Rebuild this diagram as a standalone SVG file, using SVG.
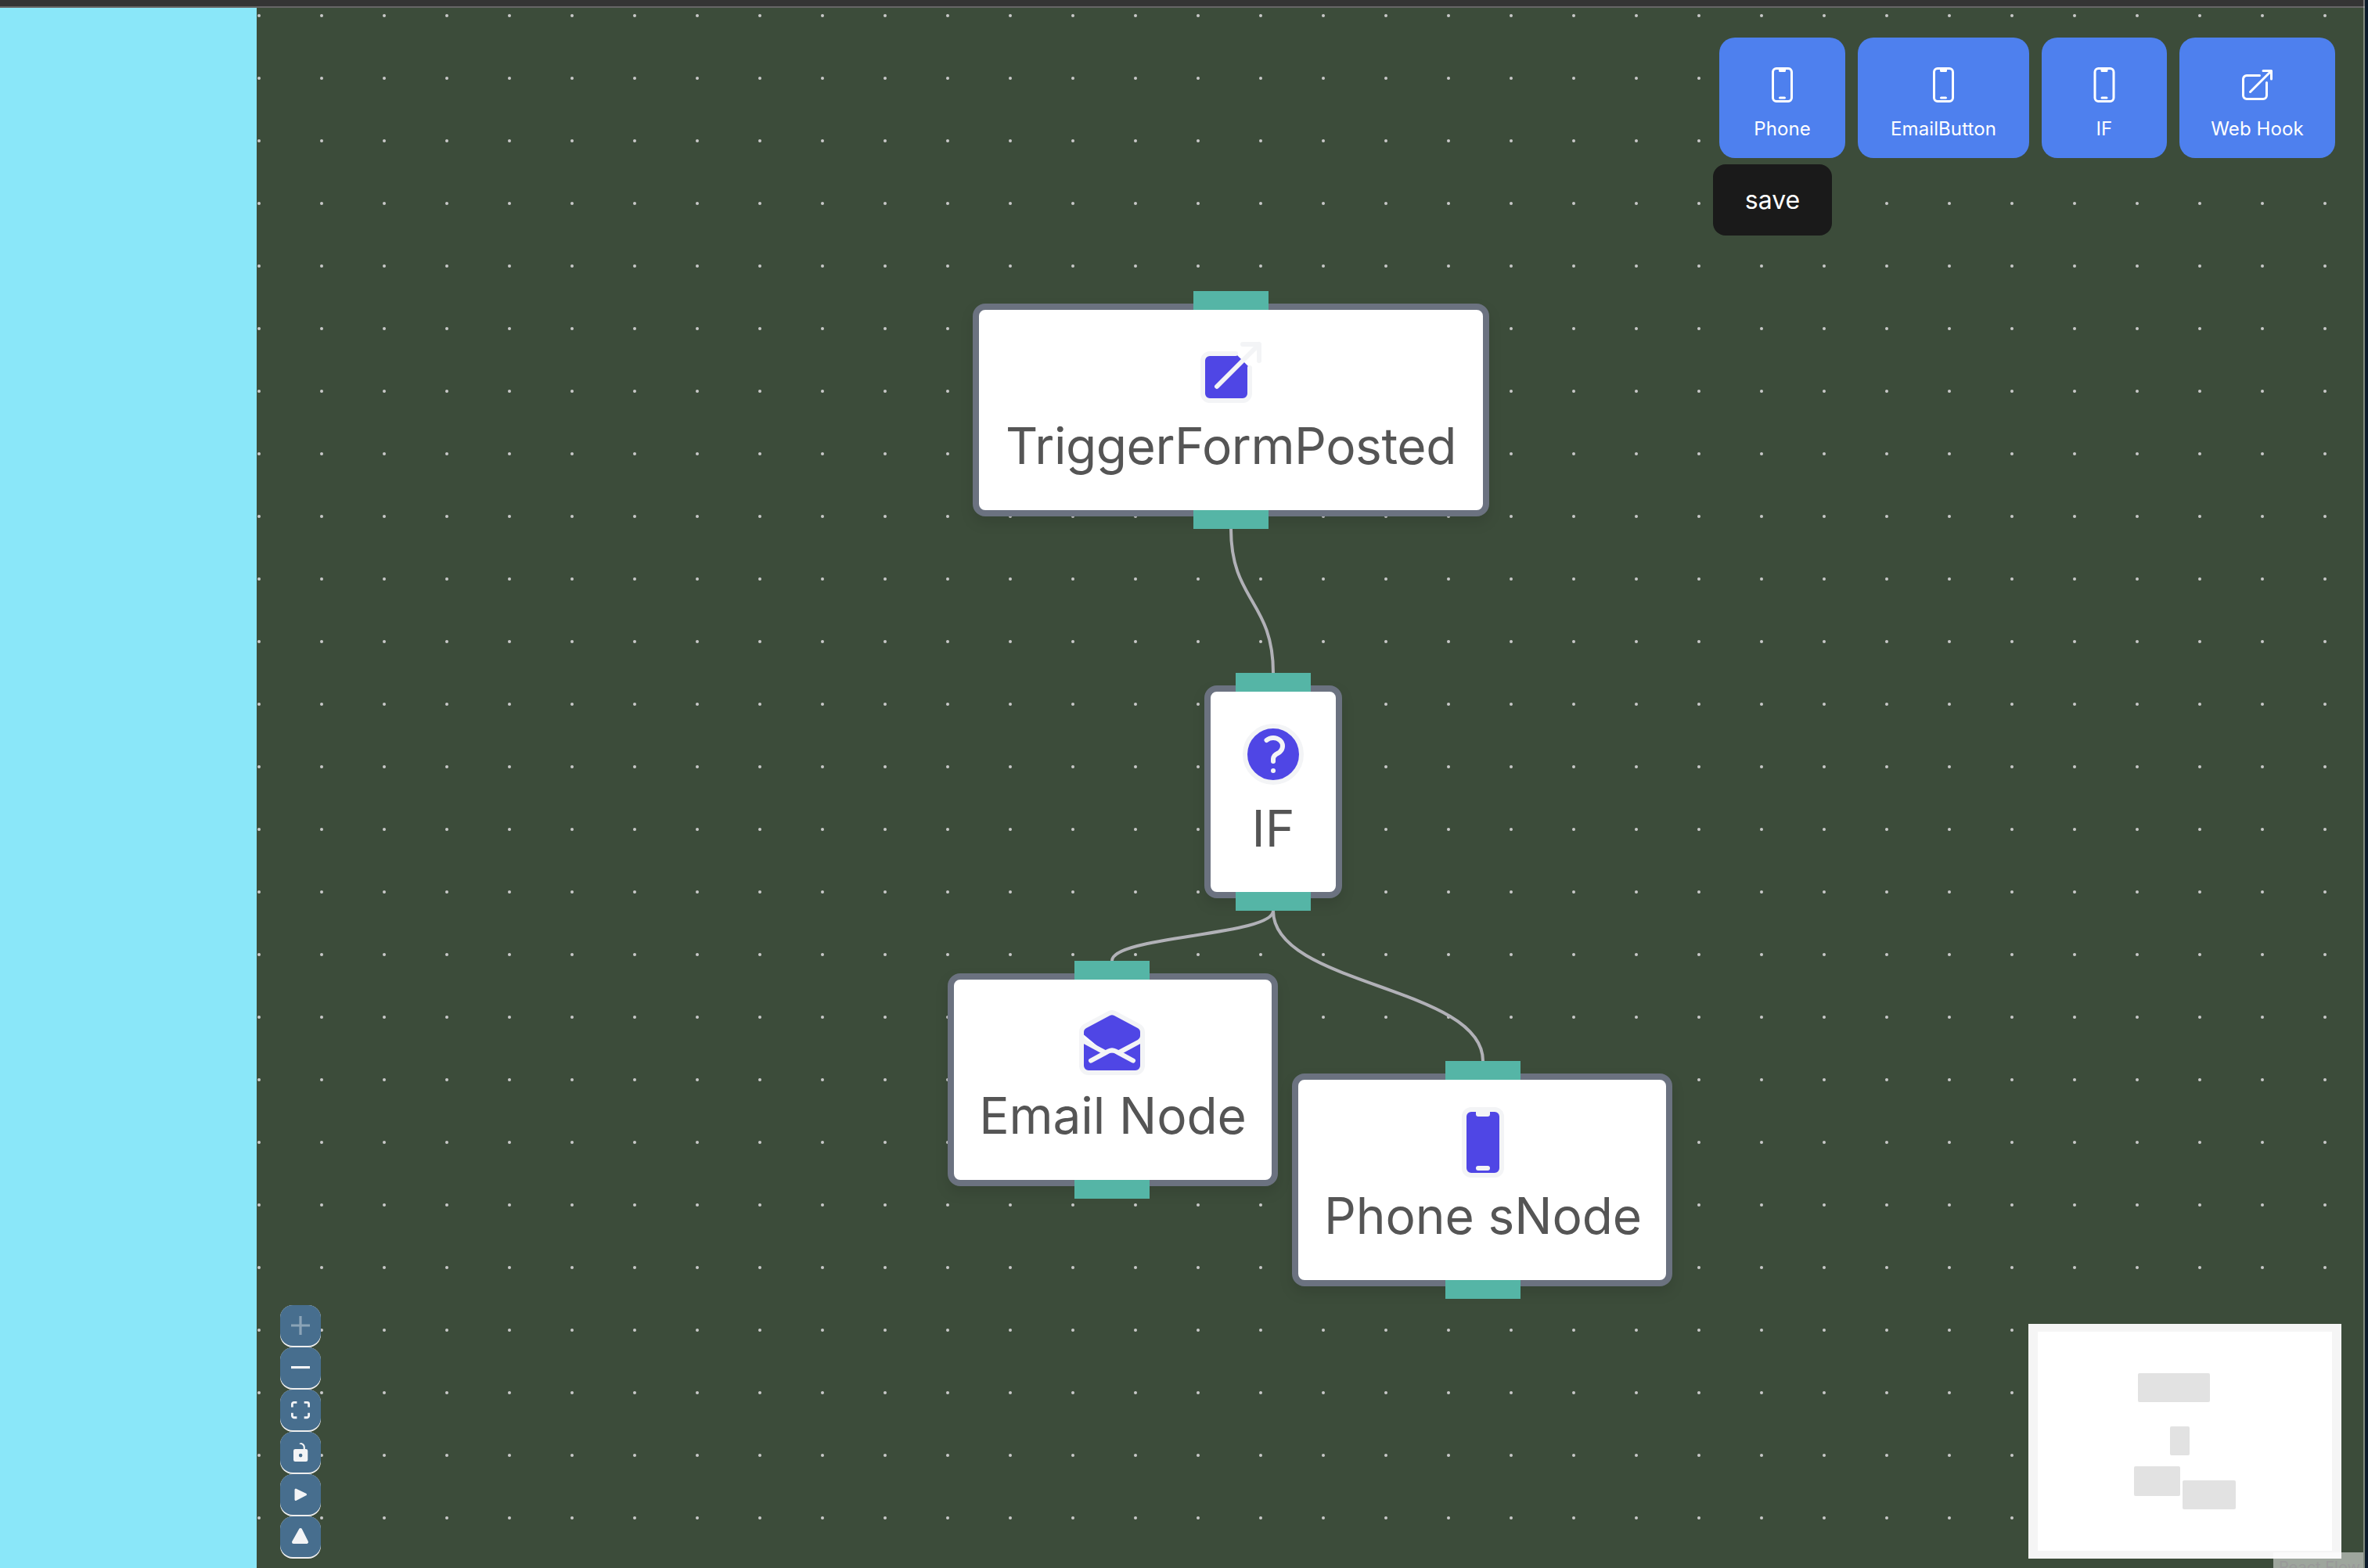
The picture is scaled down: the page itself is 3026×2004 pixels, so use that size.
<svg xmlns="http://www.w3.org/2000/svg" width="3026" height="2004" viewBox="0 0 3026 2004">
<style>
text{font-family:Inter,"Liberation Sans",sans-serif}
.box{fill:#fff;stroke:#6b7280;stroke-width:8;filter:drop-shadow(0 8px 8px rgba(0,0,0,.1))}
.h{fill:#55b5a6}
.lbl{font-size:64px;fill:#555;text-anchor:middle}
.ic{fill:#4f46e5;stroke:#f3f4f6;stroke-width:1.5;stroke-linecap:round;stroke-linejoin:round}
.tb{fill:#4e80ee}
.tt{font-size:24px;fill:#fff;text-anchor:middle;letter-spacing:.1px}
.ti{fill:none;stroke:#fff;stroke-width:1.5;stroke-linecap:round;stroke-linejoin:round}
.e{fill:none;stroke:#b1b1b7;stroke-width:4}
.cb{fill:#476e8e}
.cl{fill:#eee}
.ci{fill:#f3f4f6}
.mn{fill:#e2e2e2}
</style>
<defs>
<pattern id="dots" x="291" y="-20" width="80" height="80" patternUnits="userSpaceOnUse"><circle cx="40" cy="40" r="2" fill="#c8c8c8"/></pattern>
<path id="phone" d="M10.5 1.5H8.25A2.25 2.25 0 006 3.75v16.5a2.25 2.25 0 002.25 2.25h7.5A2.25 2.25 0 0018 20.25V3.75a2.25 2.25 0 00-2.25-2.25H13.5m-3 0V3h3V1.5m-3 0h3m-3 18.75h3"/>
<path id="ext" d="M13.5 6H5.25A2.25 2.25 0 003 8.25v10.5A2.25 2.25 0 005.25 21h10.5A2.25 2.25 0 0018 18.75V10.5m-10.5 6L21 3m0 0h-5.25M21 3v5.25"/>
</defs>
<rect id="background" width="3026" height="2004" fill="#3c4c3a"/>
<rect id="dotgrid" x="329" y="10" width="2697" height="1994" fill="url(#dots)"/>
<rect id="sidebar" y="10" width="328" height="1994" fill="#8ae7f9"/>
<rect id="topbar" width="3026" height="8" fill="#343434"/>
<rect id="topline" y="8" width="3026" height="2" fill="#666"/>
<g id="connectors">
<path class="e" d="M1573 676C1573 768 1627 768 1627 860"/>
<path class="e" d="M1627 1164C1627 1196 1421 1196 1421 1228"/>
<path class="e" d="M1627 1164C1627 1260 1895 1260 1895 1356"/>
</g>
<g id="node-trigger">
<rect class="box" x="1247" y="392" width="652" height="264" rx="12"/>
<rect class="h" x="1525" y="372" width="96" height="24"/><rect class="h" x="1525" y="652" width="96" height="24"/>
<use href="#ext" class="ic" transform="translate(1525 428) scale(4)"/>
<text class="lbl" x="1573" y="593" letter-spacing="-.45">TriggerFormPosted</text>
</g>
<g id="node-if">
<rect class="box" x="1543" y="880" width="168" height="264" rx="12"/>
<rect class="h" x="1579" y="860" width="96" height="24"/><rect class="h" x="1579" y="1140" width="96" height="24"/>
<path class="ic" transform="translate(1579 916) scale(4)" d="M9.879 7.519c1.171-1.025 3.071-1.025 4.242 0 1.172 1.025 1.172 2.687 0 3.712-.203.179-.43.326-.67.442-.745.361-1.45.999-1.45 1.827v.75M21 12a9 9 0 11-18 0 9 9 0 0118 0zm-9 5.25h.008v.008H12v-.008z"/>
<text class="lbl" x="1627" y="1082">IF</text>
</g>
<g id="node-email">
<rect class="box" x="1215" y="1248" width="414" height="264" rx="12"/>
<rect class="h" x="1373" y="1228" width="96" height="24"/><rect class="h" x="1373" y="1508" width="96" height="24"/>
<path class="ic" transform="translate(1373 1284) scale(4)" d="M21.75 9v.906a2.25 2.25 0 01-1.183 1.981l-6.478 3.488M2.25 9v.906a2.25 2.25 0 001.183 1.981l6.478 3.488m8.839 2.51l-4.66-2.51m0 0l-1.023-.55a2.25 2.25 0 00-2.134 0l-1.022.55m0 0l-4.661 2.51m16.5 1.615a2.25 2.25 0 01-2.25 2.25h-15a2.25 2.25 0 01-2.25-2.25V8.844a2.25 2.25 0 011.183-1.98l7.5-4.04a2.25 2.25 0 012.134 0l7.5 4.04a2.25 2.25 0 011.183 1.98V19.5z"/>
<text class="lbl" x="1422" y="1449" letter-spacing="-.1">Email Node</text>
</g>
<g id="node-phone">
<rect class="box" x="1655" y="1376" width="478" height="264" rx="12"/>
<rect class="h" x="1847" y="1356" width="96" height="24"/><rect class="h" x="1847" y="1636" width="96" height="24"/>
<use href="#phone" class="ic" transform="translate(1847 1412) scale(4)"/>
<text class="lbl" x="1895" y="1577" letter-spacing="-.1">Phone sNode</text>
</g>
<g id="btn-phone">
<rect class="tb" x="2197" y="48" width="161" height="154" rx="20"/>
<use href="#phone" class="ti" transform="translate(2253.500 84.500) scale(2)"/>
<text class="tt" x="2277.500" y="172.500">Phone</text>
</g>
<g id="btn-email">
<rect class="tb" x="2374" y="48" width="219" height="154" rx="20"/>
<use href="#phone" class="ti" transform="translate(2459.500 84.500) scale(2)"/>
<text class="tt" x="2483.500" y="172.500">EmailButton</text>
</g>
<g id="btn-if">
<rect class="tb" x="2609" y="48" width="160" height="154" rx="20"/>
<use href="#phone" class="ti" transform="translate(2665 84.500) scale(2)"/>
<text class="tt" x="2689" y="172.500">IF</text>
</g>
<g id="btn-webhook">
<rect class="tb" x="2785" y="48" width="199" height="154" rx="20"/>
<use href="#ext" class="ti" transform="translate(2860.500 84.500) scale(2)"/>
<text class="tt" x="2884.500" y="172.500">Web Hook</text>
</g>
<g id="btn-save">
<rect x="2189" y="210" width="152" height="91" rx="16" fill="#1a1a1a"/>
<text x="2265" y="267" font-size="32" fill="#fff" text-anchor="middle">save</text>
</g>
<g id="controls">
<rect class="cl" x="358" y="1668" width="52" height="54" rx="16"/><rect class="cb" x="358" y="1668" width="52" height="52" rx="16"/>
<rect class="cl" x="358" y="1722" width="52" height="54" rx="16"/><rect class="cb" x="358" y="1722" width="52" height="52" rx="16"/>
<rect class="cl" x="358" y="1776" width="52" height="54" rx="16"/><rect class="cb" x="358" y="1776" width="52" height="52" rx="16"/>
<rect class="cl" x="358" y="1830" width="52" height="54" rx="16"/><rect class="cb" x="358" y="1830" width="52" height="52" rx="16"/>
<rect class="cl" x="358" y="1884" width="52" height="54" rx="16"/><rect class="cb" x="358" y="1884" width="52" height="52" rx="16"/>
<rect class="cl" x="358" y="1938" width="52" height="54" rx="16"/><rect class="cb" x="358" y="1938" width="52" height="52" rx="16"/>
<path class="ci" opacity=".4" transform="translate(372 1682) scale(.75)" d="M32 18.133H18.133V32h-4.266V18.133H0v-4.266h13.867V0h4.266v13.867H32z"/>
<path class="ci" transform="translate(372 1746) scale(.75)" d="M0 0h32v4.200H0z"/>
<path class="ci" transform="translate(372 1791) scale(.75)" d="M3.692 4.630c0-.53.4-.938.939-.938h5.215V0H4.708C2.130 0 0 2.054 0 4.630v5.216h3.692V4.631zM27.354 0h-5.200v3.692h5.170c.53 0 .984.4.984.939v5.215H32V4.631A4.624 4.624 0 0027.354 0zm.954 24.830c0 .532-.4.940-.939.940h-5.215v3.768h5.215c2.577 0 4.631-2.130 4.631-4.707v-5.139h-3.692v5.139zm-23.677.940c-.531 0-.939-.4-.939-.940v-5.138H0v5.139c0 2.577 2.130 4.707 4.708 4.707h5.138V25.770H4.631z"/>
<path class="ci" transform="translate(375 1844) scale(.75)" d="M21.333 10.667H19.810V7.619C19.810 3.429 16.380 0 12.190 0c-4.114 1.828-1.370 2.133.305 2.438 1.676.305 4.420 2.590 4.420 5.181v3.048H3.047A3.056 3.056 0 000 13.714v15.238A3.056 3.056 0 003.048 32h18.285a3.056 3.056 0 003.048-3.048V13.714a3.056 3.056 0 00-3.048-3.047zM12.190 24.533a3.056 3.056 0 01-3.047-3.047 3.056 3.056 0 013.047-3.048 3.056 3.056 0 013.048 3.048 3.056 3.056 0 01-3.048 3.047z"/>
<path class="ci" stroke="#f3f4f6" stroke-width="3" stroke-linejoin="round" d="M378 1904L390.500 1910L378 1916.500z"/>
<path class="ci" stroke="#f3f4f6" stroke-width="4" stroke-linejoin="round" d="M384 1955L392 1971H375z"/>
</g>
<g id="minimap">
<rect x="2592" y="1692" width="400" height="300" fill="#f5f5f5"/>
<rect x="2604" y="1702" width="376" height="280" fill="#fff"/>
<rect class="mn" x="2732" y="1755" width="92" height="37" rx="2"/>
<rect class="mn" x="2773" y="1823" width="25" height="37" rx="2"/>
<rect class="mn" x="2727" y="1874" width="59" height="38" rx="2"/>
<rect class="mn" x="2789" y="1892" width="68" height="37" rx="2"/>
</g>
<g id="attribution">
<rect x="2905" y="1984" width="115" height="20" fill="#fff" fill-opacity=".5"/>
<text x="2912" y="2010" font-size="20" fill="#999">React Flow</text>
</g>
<rect id="rightline" x="3020" y="0" width="2" height="2004" fill="#fff" fill-opacity=".35"/>
<rect id="rightedge" x="3022" y="0" width="4" height="2004" fill="#0b1b2b"/>
</svg>
